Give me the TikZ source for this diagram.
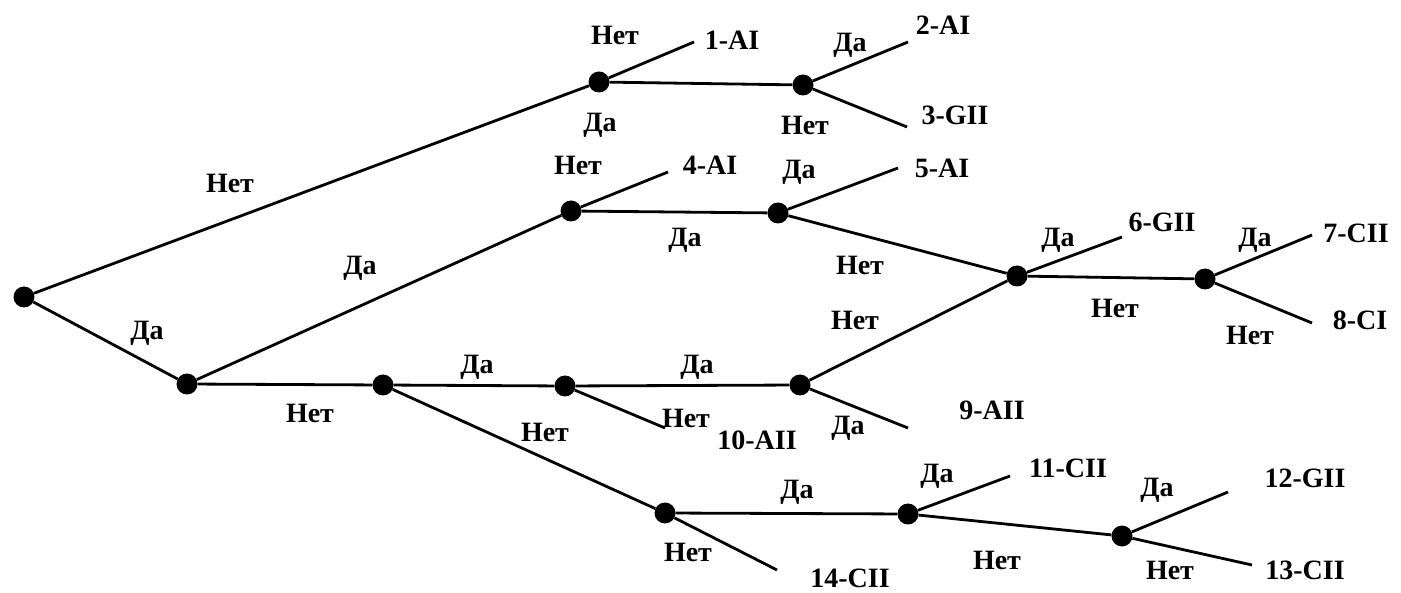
\documentclass[tikz,border=0pt]{standalone}
\usepackage{fontspec}
\setmainfont{Liberation Serif}
\begin{document}
\begin{tikzpicture}[x=1pt,y=-1pt,
  dot/.style={circle,fill=black,inner sep=0pt,minimum size=21pt},
  edge/.style={line width=2.8pt},
  lbl/.style={font=\fontsize{28}{28}\selectfont\bfseries,inner sep=0pt}]
\useasboundingbox (0,0) rectangle (1401,593);
% decision nodes
\node[dot] (R) at (24,297) {};
\node[dot] (A) at (187,384) {};
\node[dot] (T1) at (599,82) {};
\node[dot] (T2) at (803,85) {};
\node[dot] (N4) at (571,211) {};
\node[dot] (N5) at (778,213) {};
\node[dot] (N6) at (1017,276) {};
\node[dot] (N7) at (1205,279) {};
\node[dot] (B) at (383,385) {};
\node[dot] (C) at (565,386) {};
\node[dot] (D) at (800,385) {};
\node[dot] (E) at (665,513) {};
\node[dot] (F) at (908,514) {};
\node[dot] (G) at (1122,536) {};
% free ends
\coordinate (e1) at (694,42);
\coordinate (e2) at (908,42);
\coordinate (e3) at (907,127);
\coordinate (e4) at (668,172);
\coordinate (e5) at (898,168);
\coordinate (e6) at (1122,237);
\coordinate (e7) at (1312,235);
\coordinate (e8) at (1312,323);
\coordinate (e9) at (908,428);
\coordinate (e10) at (665,428);
\coordinate (e11) at (1010,476);
\coordinate (e12) at (1228,492);
\coordinate (e13) at (1252,565);
\coordinate (e14) at (777,570);
% connectors
\draw[edge] (R) -- (T1);
\draw[edge] (R) -- (A);
\draw[edge] (T1) -- (e1);
\draw[edge] (T1) -- (T2);
\draw[edge] (T2) -- (e2);
\draw[edge] (T2) -- (e3);
\draw[edge] (A) -- (N4);
\draw[edge] (N4) -- (e4);
\draw[edge] (N4) -- (N5);
\draw[edge] (N5) -- (e5);
\draw[edge] (N5) -- (N6);
\draw[edge] (N6) -- (e6);
\draw[edge] (N6) -- (N7);
\draw[edge] (N7) -- (e7);
\draw[edge] (N7) -- (e8);
\draw[edge] (A) -- (B);
\draw[edge] (B) -- (C);
\draw[edge] (C) -- (D);
\draw[edge] (C) -- (e10);
\draw[edge] (D) -- (N6);
\draw[edge] (D) -- (e9);
\draw[edge] (B) -- (E);
\draw[edge] (E) -- (F);
\draw[edge] (E) -- (e14);
\draw[edge] (F) -- (e11);
\draw[edge] (F) -- (G);
\draw[edge] (G) -- (e12);
\draw[edge] (G) -- (e13);
% branch labels
\node[lbl] (l1) at (230,183) {Нет};
\node[lbl] (l2) at (147,333) {Да};
\node[lbl] (l3) at (615,35) {Нет};
\node[lbl] (l4) at (600,125) {Да};
\node[lbl] (l5) at (805,125) {Нет};
\node[lbl] (l6) at (850,45) {Да};
\node[lbl] (l7) at (360,268) {Да};
\node[lbl] (l8) at (578,165) {Нет};
\node[lbl] (l9) at (685,240) {Да};
\node[lbl] (l10) at (799,172) {Да};
\node[lbl] (l11) at (860,265) {Нет};
\node[lbl] (l12) at (1058,240) {Да};
\node[lbl] (l13) at (1115,308) {Нет};
\node[lbl] (l14) at (1255,240) {Да};
\node[lbl] (l15) at (1250,335) {Нет};
\node[lbl] (l16) at (310,413) {Нет};
\node[lbl] (l17) at (477,367) {Да};
\node[lbl] (l18) at (697,367) {Да};
\node[lbl] (l19) at (686,418) {Нет};
\node[lbl] (l20) at (855,320) {Нет};
\node[lbl] (l21) at (848,428) {Да};
\node[lbl] (l22) at (545,432) {Нет};
\node[lbl] (l23) at (797,492) {Да};
\node[lbl] (l24) at (688,552) {Нет};
\node[lbl] (l25) at (937,476) {Да};
\node[lbl] (l26) at (997,560) {Нет};
\node[lbl] (l27) at (1157,490) {Да};
\node[lbl] (l28) at (1170,570) {Нет};
% outcome labels
\node[lbl] (o1) at (732,40) {1-AI};
\node[lbl] (o2) at (943,25) {2-AI};
\node[lbl] (o3) at (955,115) {3-GII};
\node[lbl] (o4) at (710,165) {4-AI};
\node[lbl] (o5) at (942,168) {5-AI};
\node[lbl] (o6) at (1162,222) {6-GII};
\node[lbl] (o7) at (1356,233) {7-CII};
\node[lbl] (o8) at (1360,320) {8-CI};
\node[lbl] (o9) at (992,410) {9-AII};
\node[lbl] (o10) at (757,440) {10-AII};
\node[lbl] (o11) at (1068,468) {11-CII};
\node[lbl] (o12) at (1305,478) {12-GII};
\node[lbl] (o13) at (1305,570) {13-CII};
\node[lbl] (o14) at (850,578) {14-CII};
\end{tikzpicture}
\end{document}
